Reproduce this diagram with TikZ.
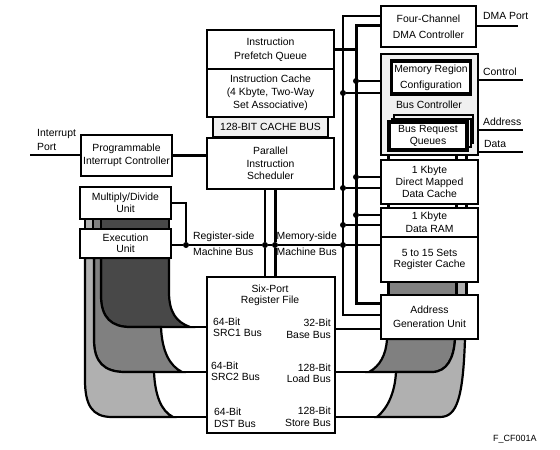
\documentclass[tikz,border=0pt]{standalone}
\usepackage{fontspec}
\setmainfont{Liberation Sans}
\definecolor{ribbondark}{RGB}{72,72,72}
\definecolor{ribbonmid}{RGB}{128,128,128}
\definecolor{ribbonlight}{RGB}{176,176,176}
\definecolor{panelgray}{RGB}{240,240,240}
\tikzset{
  lead/.style={font=\fontsize{10.4}{#1}\selectfont},
  unitbox/.style={draw, line width=2.6pt, fill=white, align=center, inner sep=0pt, lead=12.5},
  thickbox/.style={unitbox, line width=3.4pt},
  backbox/.style={draw, line width=2pt, fill=panelgray, inner sep=0pt},
  tag/.style={inner sep=0pt, align=left, anchor=west, lead=11.5},
  tagr/.style={inner sep=0pt, align=right, anchor=east, lead=11.5},
  bus/.style={line width=2.3pt},
  heavybus/.style={line width=3pt},
  dot/.style={circle, fill=black, inner sep=0pt, minimum size=6pt},
  ribbon/.style={draw, line width=2.2pt}
}
\begin{document}
\begin{tikzpicture}[x=1pt,y=-1pt, line cap=butt]
      \useasboundingbox (0,0) rectangle (560,450);
      % ribbons behind the units on the left
      \fill[ribbonlight] (85,219) rectangle (93,229);
      \fill[ribbonmid] (94,219) rectangle (100,229);
      \fill[ribbondark] (102,219) rectangle (169,229);
      \path[ribbon, fill=ribbondark] (101,258) -- (101,296) .. controls (101,318) and (112,327) .. (130,327) -- (190,327) .. controls (176,322) and (169,312) .. (169,292) -- (169,258) -- cycle;
      \path[ribbon, fill=ribbonmid] (94,258) -- (94,340) .. controls (94,362) and (104,372) .. (125,372) -- (182,372) .. controls (170,366) and (162,352) .. (161,327) -- (130,327) .. controls (112,327) and (101,318) .. (101,296) -- (101,258) -- cycle;
      \path[ribbon, fill=ribbonlight] (85,258) -- (85,380) .. controls (85,405) and (92,417) .. (112,417) -- (173,417) .. controls (161,411) and (155,395) .. (154,372) -- (125,372) .. controls (104,372) and (94,362) .. (94,340) -- (94,258) -- cycle;
      \foreach \a in {85,93,101,169}
        \draw[ribbon] (\a,218) -- (\a,230);
      % ribbons behind the units on the right
      \fill[ribbonmid] (388,282) rectangle (456,296);
      \fill[ribbonlight] (456,282) rectangle (466,296);
      \foreach \a in {388,456,466}
        \draw[heavybus] (\a,150) -- (\a,296);
      \path[ribbon, fill=ribbonmid] (387,339) .. controls (386,355) and (380,366) .. (369,372) -- (432,372) .. controls (447,372) and (454,358) .. (455,339) -- cycle;
      \path[ribbon, fill=ribbonlight] (396,372) .. controls (395,392) and (388,408) .. (377,417) -- (440,417) .. controls (457,417) and (463,398) .. (465,339) -- (455,339) .. controls (454,358) and (447,372) .. (432,372) -- cycle;
      % units
      \node[unitbox, minimum width=127pt, minimum height=39pt, lead=14] (prefetch) at (270.5,49.5) {Instruction\\Prefetch Queue};
      \node[unitbox, minimum width=127pt, minimum height=48pt, lead=13] (icache) at (270.5,93) {Instruction Cache\\(4 Kbyte, Two-Way\\Set Associative)};
      \node[unitbox, fill=panelgray, minimum width=115pt, minimum height=20pt] (cachebus) at (270.5,127) {128-BIT CACHE BUS};
      \node[unitbox, minimum width=127pt, minimum height=51pt] (sched) at (270.5,163.5) {Parallel\\Instruction\\Scheduler};
      \node[unitbox, minimum width=91pt, minimum height=41pt, lead=13] (pic) at (126.5,155.5) {Programmable\\Interrupt Controller};
      \node[unitbox, minimum width=91pt, minimum height=32pt] (muldiv) at (125.5,203) {Multiply/Divide\\Unit};
      \node[unitbox, minimum width=91pt, minimum height=29pt, lead=11.5] (exec) at (125.5,243.5) {Execution\\Unit};
      \node[unitbox, minimum width=128pt, minimum height=156pt] (regfile) at (271,355) {};
      \node[unitbox, minimum width=95pt, minimum height=41pt, lead=16] (dma) at (428.5,26.5) {Four-Channel\\DMA Controller};
      \node[unitbox, fill=panelgray, minimum width=97pt, minimum height=101pt] (busctl) at (429.5,104.5) {};
      \node[thickbox, minimum width=79pt, minimum height=33pt, lead=16] (memreg) at (431,77.5) {Memory Region\\Configuration};
      \node[backbox, minimum width=79pt, minimum height=28pt] (queueb) at (433.5,129) {};
      \node[backbox, minimum width=79pt, minimum height=28pt] (queuem) at (431,132.5) {};
      \node[thickbox, minimum width=78pt, minimum height=28pt, lead=11.5] (queuef) at (428,136) {Bus Request\\Queues};
      \node[unitbox, minimum width=97pt, minimum height=44pt, lead=12] (dcache) at (429.5,182) {1 Kbyte\\Direct Mapped\\Data Cache};
      \node[unitbox, minimum width=97pt, minimum height=29pt, lead=13] (dram) at (429.5,222.5) {1 Kbyte\\Data RAM};
      \node[unitbox, minimum width=97pt, minimum height=45pt, lead=11] (regcache) at (429.5,259.5) {5 to 15 Sets\\Register Cache};
      \node[unitbox, minimum width=97pt, minimum height=44pt, lead=14] (agu) at (429.5,317) {Address\\Generation Unit};
      % free ends and junctions
      \coordinate (intport) at (30,155);
      \coordinate (dmaport) at (518,26);
      \coordinate (controlp) at (523,80);
      \coordinate (addressp) at (523,130);
      \coordinate (datap) at (523,152);
      \coordinate (railatop) at (343,16);
      \coordinate (railbtop) at (356,25);
      \coordinate (railabot) at (343,315);
      \coordinate (railbbot) at (356,303);
      \coordinate (baseend) at (381,329);
      \coordinate (srconeend) at (130,327);
      \coordinate (srctwoend) at (125,372);
      \coordinate (dstend) at (112,417);
      \coordinate (loadend) at (369,372);
      \coordinate (storeend) at (377,417);
      \node[dot] (jmul) at (186,245) {};
      \node[dot] (jreg) at (265,245) {};
      \node[dot] (jmem) at (275,245) {};
      \node[dot] (jbusb) at (356,81) {};
      \node[dot] (jbusa) at (343,93) {};
      \node[dot] (jdcb) at (356,177) {};
      \node[dot] (jdca) at (343,188) {};
      \node[dot] (jramb) at (356,215) {};
      \node[dot] (jrama) at (343,225) {};
      \node[dot] (jcache) at (343,245) {};
      % connectors
      \draw[bus] (intport) -- (pic.west |- intport);
      \draw[bus] (pic.east) -- (sched.west |- pic.east);
      \draw[bus] (muldiv.east) -| (jmul);
      \draw[bus] (exec.east |- jmul) -- (jmul) -- (jreg) -- (jmem) -- (jcache) -- (regcache.west |- jcache);
      \draw[bus] (sched.south -| jreg) -- (jreg) -- (regfile.north -| jreg);
      \draw[heavybus] (sched.south -| jmem) -- (jmem) -- (regfile.north -| jmem);
      \draw[bus] (dma.west |- railatop) -- (railatop) -- (railabot) -- (agu.west |- railabot);
      \draw[heavybus] (dma.west |- railbtop) -- (railbtop) -- (railbbot) -- (agu.west |- railbbot);
      \draw[heavybus] (prefetch.east) -- (railbtop |- prefetch.east);
      \foreach \a/\b in {jbusb/busctl,jbusa/busctl,jdcb/dcache,jdca/dcache,jramb/dram,jrama/dram}
        \draw[bus] (\a) -- (\b.west |- \a);
      \draw[bus] (dma.east |- dmaport) -- (dmaport);
      \draw[bus] (busctl.east |- controlp) -- (controlp);
      \draw[bus] (busctl.east |- addressp) -- (addressp);
      \draw[bus] (busctl.east |- datap) -- (datap);
      \draw[bus] (regfile.east |- baseend) -- (baseend);
      \draw[bus] (regfile.west |- srconeend) -- (srconeend);
      \draw[bus] (regfile.west |- srctwoend) -- (srctwoend);
      \draw[bus] (regfile.west |- dstend) -- (dstend);
      \draw[bus] (regfile.east |- loadend) -- (loadend);
      \draw[bus] (regfile.east |- storeend) -- (storeend);
      % labels
      \node[tag, lead=14] (intlabel) at (37,140) {Interrupt\\Port};
      \node[tag, lead=16] (reglabel) at (193,244) {Register-side\\Machine Bus};
      \node[tagr, lead=16] (memlabel) at (337,244) {Memory-side\\Machine Bus};
      \node[lead=11.5, align=center, inner sep=0pt] (rflabel) at (270,295.5) {Six-Port\\Register File};
      \node[tag] (srcone) at (213,327.5) {64-Bit\\SRC1 Bus};
      \node[tag] (srctwo) at (211,371.5) {64-Bit\\SRC2 Bus};
      \node[tag] (dstlabel) at (214,418) {64-Bit\\DST Bus};
      \node[tagr] (baselabel) at (331,329) {32-Bit\\Base Bus};
      \node[tagr] (loadlabel) at (331,373.5) {128-Bit\\Load Bus};
      \node[tagr] (storelabel) at (331,417) {128-Bit\\Store Bus};
      \node[tag] (dmalabel) at (483,16) {DMA Port};
      \node[tag] (ctllabel) at (483,72) {Control};
      \node[tag] (addrlabel) at (483,122) {Address};
      \node[tag] (datalabel) at (484,144) {Data};
      \node[lead=12, inner sep=0pt] (bclabel) at (429,105) {Bus Controller};
      \node[tag, font=\fontsize{9}{11}\selectfont] (figlabel) at (493,439) {F\_CF001A};
    \end{tikzpicture}
\end{document}
